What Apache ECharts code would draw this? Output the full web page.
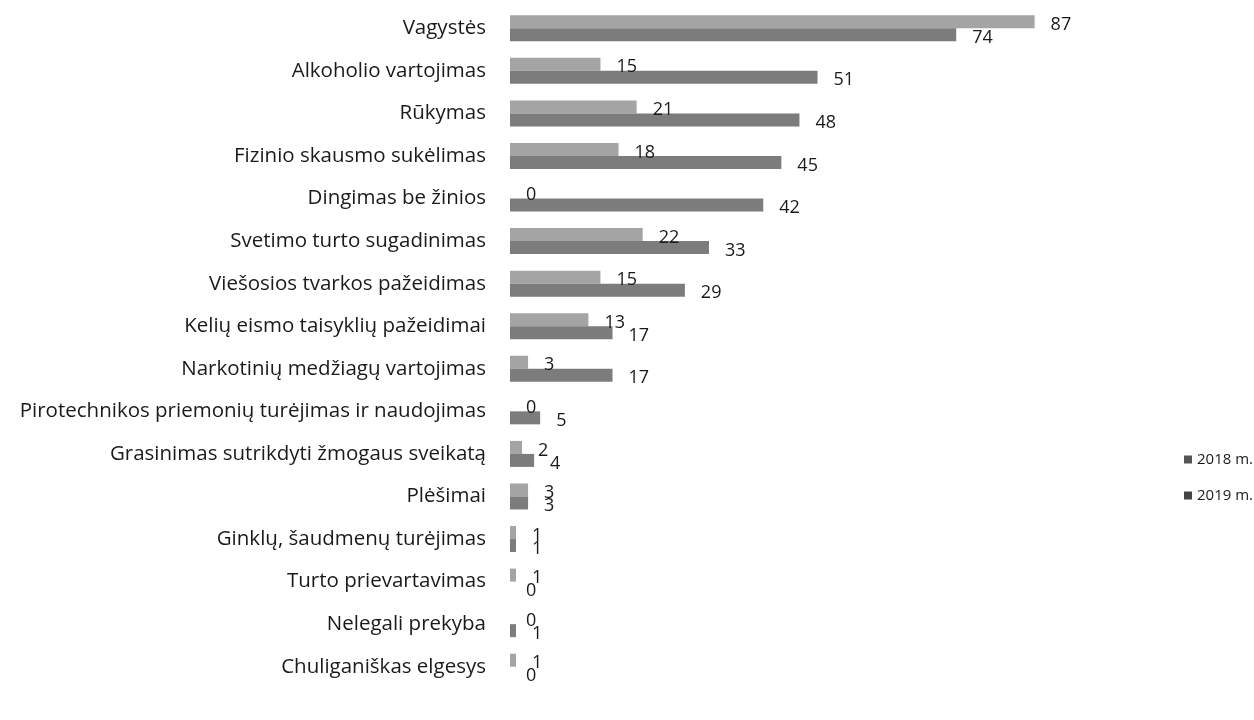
<!DOCTYPE html>
<html>
<head>
<meta charset="utf-8">
<script src="https://cdn.jsdelivr.net/npm/echarts@6/dist/echarts.min.js"></script>
<style>
  html, body { margin: 0; padding: 0; background: #fff; }
  #chart { width: 1254px; height: 720px; }
</style>
</head>
<body>
<div id="chart"></div>
<script>
// categories, top to bottom
const categories = [
  'Vagystės',
  'Alkoholio vartojimas',
  'Rūkymas',
  'Fizinio skausmo sukėlimas',
  'Dingimas be žinios',
  'Svetimo turto sugadinimas',
  'Viešosios tvarkos pažeidimas',
  'Kelių eismo taisyklių pažeidimai',
  'Narkotinių medžiagų vartojimas',
  'Pirotechnikos priemonių turėjimas ir naudojimas',
  'Grasinimas sutrikdyti žmogaus sveikatą',
  'Plėšimai',
  'Ginklų, šaudmenų turėjimas',
  'Turto prievartavimas',
  'Nelegali prekyba',
  'Chuliganiškas elgesys'
]
const values2018 = [87, 15, 21, 18, 0, 22, 15, 13, 3, 0, 2, 3, 1, 1, 0, 1]
const values2019 = [74, 51, 48, 45, 42, 33, 29, 17, 17, 5, 4, 3, 1, 0, 1, 0]

const chart = echarts.init(document.getElementById('chart'))
const font = 'Open Sans'

function barSeries(name, data, color) {
  return {
    name: name,
    type: 'bar',
    data: data,
    barWidth: 13,
    barGap: '0%',
    itemStyle: { color: color },
    label: {
      show: true,
      position: 'right',
      distance: 16,
      offset: [0, 3],
      color: '#1a1a1a',
      fontFamily: font,
      fontSize: 18
    },
    animation: false
  }
}

chart.setOption({
  backgroundColor: '#fff',
  textStyle: { fontFamily: font },
  grid: { left: 510, right: 141, top: 7, bottom: 32 },
  legend: {
    orient: 'vertical',
    left: 1184,
    top: 452,
    padding: 0,
    itemGap: 21,
    itemWidth: 8,
    itemHeight: 8,
    icon: 'rect',
    textStyle: { fontFamily: font, fontSize: 15, color: '#1a1a1a' },
    data: [
      { name: '2018 m.', itemStyle: { color: '#555' } },
      { name: '2019 m.', itemStyle: { color: '#444' } }
    ]
  },
  xAxis: {
    type: 'value',
    min: 0,
    max: 100,
    show: false
  },
  yAxis: {
    type: 'category',
    inverse: true,
    data: categories,
    axisLine: { show: false },
    axisTick: { show: false },
    axisLabel: {
      margin: 24,
      fontFamily: font,
      fontSize: 20.5,
      color: '#1a1a1a'
    }
  },
  series: [
    barSeries('2018 m.', values2018, '#a4a4a4'),
    barSeries('2019 m.', values2019, '#7c7c7c')
  ]
})
</script>
</body>
</html>
